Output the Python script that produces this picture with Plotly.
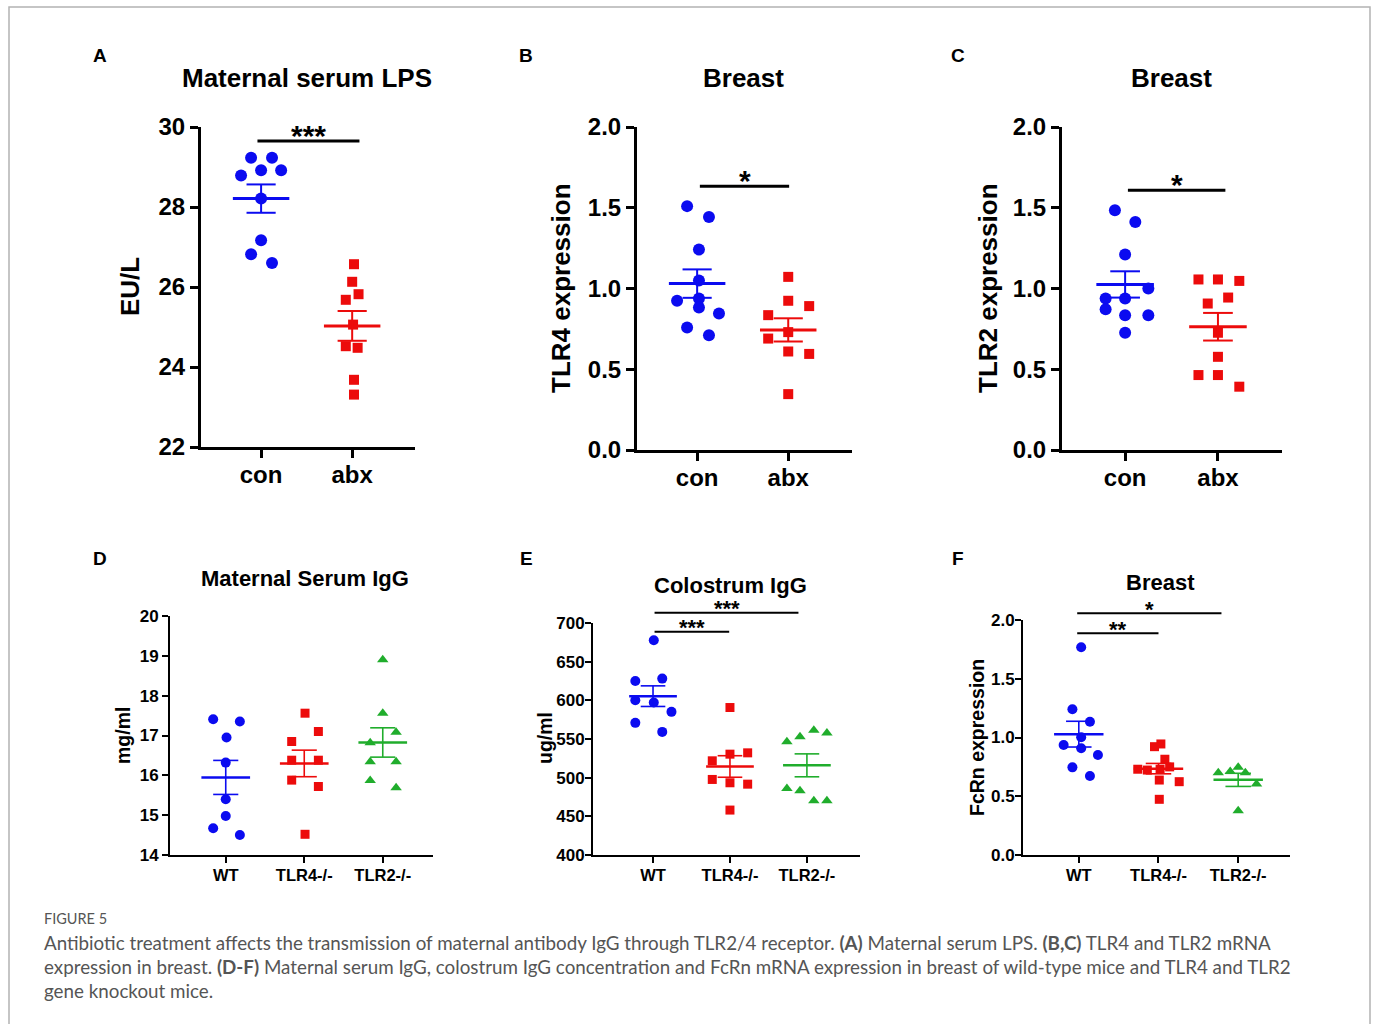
import numpy as np
import plotly.graph_objects as go

W, H = 1375, 1024
BLUE = '#0b0bf0'
RED = '#ec0b0b'
GREEN = '#20ad2c'
FONT = 'Liberation Sans, Arial, sans-serif'

# ---------------- data ----------------
cats_ab = ['con', 'abx']
cats_def = ['WT', 'TLR4-/-', 'TLR2-/-']

A_con = [29.23, 29.23, 28.92, 28.92, 28.79, 28.21, 27.17, 26.82, 26.60]
A_abx = [26.57, 26.13, 25.82, 25.68, 25.06, 24.52, 24.48, 23.68, 23.31]

B_con = [1.51, 1.443, 1.241, 1.05, 0.924, 0.938, 0.882, 0.845, 0.759, 0.711]
B_abx = [1.072, 0.924, 0.891, 0.835, 0.73, 0.69, 0.61, 0.595, 0.346]

C_con = [1.485, 1.412, 1.21, 1.0, 0.938, 0.938, 0.872, 0.835, 0.835, 0.726]
C_abx = [1.056, 1.056, 1.047, 0.944, 0.907, 0.726, 0.577, 0.464, 0.464, 0.392]

D_wt = [17.41, 17.35, 16.95, 16.32, 15.40, 14.98, 14.67, 14.50]
D_tlr4 = [17.56, 17.10, 16.85, 16.38, 16.38, 15.88, 15.72, 14.52]
D_tlr2 = [18.90, 17.56, 17.08, 16.82, 16.34, 16.34, 15.87, 15.69]

E_wt = [677.6, 628.1, 625.1, 600.1, 597.1, 585.1, 570.9, 559.2]
E_tlr4 = [590.7, 532.1, 530.4, 521.8, 497.7, 493.4, 491.6, 458.1]
E_tlr2 = [561.4, 557.9, 552.8, 546.3, 486.0, 483.0, 470.1, 470.1]

F_wt = [1.768, 1.24, 1.134, 1.002, 0.936, 0.908, 0.851, 0.746, 0.672]
F_tlr4 = [0.945, 0.922, 0.815, 0.75, 0.73, 0.73, 0.723, 0.638, 0.624, 0.474]
F_tlr2 = [0.746, 0.71, 0.70, 0.70, 0.604, 0.377]

# horizontal scatter offsets (category units), kept apart from the values
A_con_j = [-0.11, 0.12, 0.0, 0.22, -0.22, 0.0, 0.0, -0.11, 0.12]
A_abx_j = [0.02, 0.0, 0.07, -0.07, 0.01, -0.07, 0.06, 0.02, 0.02]
B_con_j = [-0.11, 0.13, 0.02, 0.02, -0.22, 0.02, 0.02, 0.24, -0.11, 0.13]
B_abx_j = [0.0, 0.0, 0.23, -0.22, 0.0, -0.22, 0.0, 0.23, 0.0]
C_con_j = [-0.11, 0.11, 0.0, 0.25, -0.21, 0.0, -0.21, 0.0, 0.25, 0.0]
C_abx_j = [-0.21, 0.0, 0.23, 0.11, -0.11, 0.0, 0.0, -0.21, 0.0, 0.23]
D_wt_j = [-0.16, 0.18, 0.01, 0.0, 0.0, 0.0, -0.16, 0.18]
D_tlr4_j = [0.01, 0.18, -0.16, -0.16, 0.18, -0.16, 0.18, 0.01]
D_tlr2_j = [0.0, 0.0, 0.17, -0.16, -0.16, 0.17, -0.16, 0.17]
E_wt_j = [0.01, 0.12, -0.23, -0.23, 0.01, 0.24, -0.23, 0.12]
E_tlr4_j = [0.0, 0.23, 0.0, -0.23, -0.23, 0.0, 0.23, 0.0]
E_tlr2_j = [0.09, 0.26, -0.09, -0.26, -0.26, -0.09, 0.09, 0.26]
F_wt_j = [0.03, -0.08, 0.14, 0.03, -0.19, 0.03, 0.24, -0.08, 0.14]
F_tlr4_j = [0.03, -0.05, 0.08, 0.14, 0.02, -0.26, -0.14, 0.01, 0.26, 0.01]
F_tlr2_j = [0.0, -0.1, -0.25, 0.09, 0.23, 0.0]

A_ticks = [22, 24, 26, 28, 30]
BC_ticks = [0, 0.5, 1.0, 1.5, 2.0]
D_ticks = [14, 15, 16, 17, 18, 19, 20]
E_ticks = [400, 450, 500, 550, 600, 650, 700]
F_ticks = [0, 0.5, 1.0, 1.5, 2.0]

# ---------------- panel layout ----------------
def px(x):
    return x / W


def py(y):
    return 1 - y / H


panels = [
    dict(letter='A', title='Maternal serum LPS', ytitle='EU/L', cats=cats_ab,
         groups=[(A_con, A_con_j, BLUE, 'circle'), (A_abx, A_abx_j, RED, 'square')],
         xpx=(201, 415), ypx=(127, 447), xr=(-0.66, 1.69), yr=(22, 30), ticks=A_ticks,
         fmt='{:.0f}', top=True, ystand=0,
         sig=[(-0.04, 1.08, 29.65, '***')],
         letter_xy=(100, 55), title_xy=(307, 78), ytitle_xy=(130, 287)),
    dict(letter='B', title='Breast', ytitle='TLR4 expression', cats=cats_ab,
         groups=[(B_con, B_con_j, BLUE, 'circle'), (B_abx, B_abx_j, RED, 'square')],
         xpx=(637, 852), ypx=(127, 450), xr=(-0.66, 1.70), yr=(0, 2), ticks=BC_ticks,
         fmt='{:.1f}', top=True, ystand=0,
         sig=[(0.03, 1.01, 1.633, '*')],
         letter_xy=(526, 55), title_xy=(743, 78), ytitle_xy=(561, 288)),
    dict(letter='C', title='Breast', ytitle='TLR2 expression', cats=cats_ab,
         groups=[(C_con, C_con_j, BLUE, 'circle'), (C_abx, C_abx_j, RED, 'square')],
         xpx=(1062, 1282), ypx=(127, 450), xr=(-0.68, 1.69), yr=(0, 2), ticks=BC_ticks,
         fmt='{:.1f}', top=True, ystand=0,
         sig=[(0.03, 1.08, 1.608, '*')],
         letter_xy=(958, 55), title_xy=(1171, 78), ytitle_xy=(988, 288)),
    dict(letter='D', title='Maternal Serum IgG', ytitle='mg/ml', cats=cats_def,
         groups=[(D_wt, D_wt_j, BLUE, 'circle'), (D_tlr4, D_tlr4_j, RED, 'square'),
                 (D_tlr2, D_tlr2_j, GREEN, 'triangle-up')],
         xpx=(170, 433), ypx=(616, 855), xr=(-0.71, 2.64), yr=(14, 20), ticks=D_ticks,
         fmt='{:.0f}', top=False, ystand=0, sig=[],
         letter_xy=(100, 558), title_xy=(305, 578), ytitle_xy=(123, 736)),
    dict(letter='E', title='Colostrum IgG', ytitle='ug/ml', cats=cats_def,
         groups=[(E_wt, E_wt_j, BLUE, 'circle'), (E_tlr4, E_tlr4_j, RED, 'square'),
                 (E_tlr2, E_tlr2_j, GREEN, 'triangle-up')],
         xpx=(593, 860), ypx=(623, 855), xr=(-0.78, 2.69), yr=(400, 700), ticks=E_ticks,
         fmt='{:.0f}', top=False, ystand=-3,
         sig=[(0.02, 0.99, 688.7, '***'), (0.02, 1.89, 713.3, '***')],
         letter_xy=(526, 558), title_xy=(730, 585), ytitle_xy=(545, 738)),
    dict(letter='F', title='Breast', ytitle='FcRn expression', cats=cats_def,
         groups=[(F_wt, F_wt_j, BLUE, 'circle'), (F_tlr4, F_tlr4_j, RED, 'square'),
                 (F_tlr2, F_tlr2_j, GREEN, 'triangle-up')],
         xpx=(1023, 1290), ypx=(620, 855), xr=(-0.70, 2.65), yr=(0, 2), ticks=F_ticks,
         fmt='{:.1f}', top=False, ystand=-3,
         sig=[(-0.02, 1.0, 1.887, '**'), (-0.02, 1.79, 2.057, '*')],
         letter_xy=(958, 558), title_xy=(1160, 582), ytitle_xy=(977, 738)),
]

fig = go.Figure()
layout = dict(width=W, height=H,
              margin=dict(l=0, r=0, t=0, b=0, pad=0, autoexpand=False),
              paper_bgcolor='white', plot_bgcolor='white', showlegend=False,
              font=dict(family=FONT, color='black'))
shapes = []
annotations = []


def val_to_paper(p, v):
    y0, y1 = p['yr']
    top_px, bot_px = p['ypx']
    frac = (v - y0) / (y1 - y0)
    return py(bot_px) + frac * (py(top_px) - py(bot_px))


for i, p in enumerate(panels, start=1):
    xa = 'x' if i == 1 else f'x{i}'
    ya = 'y' if i == 1 else f'y{i}'
    top = p['top']
    lw = 3 if top else 2
    tl = 8 if top else 6
    tick_size = 24 if top else 17
    cat_size = 24 if top else 16.5
    msize = {'circle': 12, 'square': 10} if top else {'circle': 10, 'square': 9, 'triangle-up': 10}
    mean_w = 3 if top else 2.5
    sem_w = 2 if top else 1.6
    half = 0.31
    cap = 0.16

    for gi, (vals, jit, color, sym) in enumerate(p['groups']):
        xs = [gi + j for j in jit]
        fig.add_trace(go.Scatter(x=xs, y=vals, mode='markers', xaxis=xa, yaxis=ya,
                                 marker=dict(symbol=sym, size=msize[sym], color=color,
                                             line=dict(width=0)),
                                 hoverinfo='skip', cliponaxis=False))
    for gi, (vals, jit, color, sym) in enumerate(p['groups']):
        arr = np.array(vals, dtype=float)
        m = arr.mean()
        s = arr.std(ddof=1) / np.sqrt(len(arr))
        fig.add_trace(go.Scatter(x=[gi - half, gi + half], y=[m, m], mode='lines',
                                 xaxis=xa, yaxis=ya, line=dict(color=color, width=mean_w),
                                 hoverinfo='skip'))
        fig.add_trace(go.Scatter(
            x=[gi, gi, None, gi - cap, gi + cap, None, gi - cap, gi + cap],
            y=[m - s, m + s, None, m + s, m + s, None, m - s, m - s],
            mode='lines', xaxis=xa, yaxis=ya, line=dict(color=color, width=sem_w),
            hoverinfo='skip'))

    axis_common = dict(showline=True, linecolor='black', linewidth=lw, ticks='outside',
                       ticklen=tl, tickwidth=lw, tickcolor='black', showgrid=False,
                       zeroline=False, fixedrange=True, automargin=False)
    layout['xaxis' if i == 1 else f'xaxis{i}'] = dict(
        domain=[px(p['xpx'][0]), px(p['xpx'][1])], range=list(p['xr']),
        tickvals=list(range(len(p['cats']))), ticktext=p['cats'],
        tickfont=dict(family=FONT, size=cat_size, color='black', weight='bold'),
        ticklabelstandoff=-4 if top else -2,
        anchor=ya, **axis_common)
    layout['yaxis' if i == 1 else f'yaxis{i}'] = dict(
        domain=[py(p['ypx'][1]), py(p['ypx'][0])], range=list(p['yr']),
        tickvals=p['ticks'], ticktext=[p['fmt'].format(t) for t in p['ticks']],
        tickfont=dict(family=FONT, size=tick_size, color='black', weight='bold'),
        ticklabelstandoff=p['ystand'],
        anchor=xa, **axis_common)

    # significance bars
    for (x0, x1, v, stars) in p['sig']:
        yp = val_to_paper(p, v)
        shapes.append(dict(type='line', xref=xa, yref='paper', x0=x0, x1=x1, y0=yp, y1=yp,
                           line=dict(color='black', width=lw)))
        annotations.append(dict(xref=xa, yref='paper', x=(x0 + x1) / 2, y=yp, text=stars,
                                showarrow=False, yanchor='middle', yshift=6 if top else 4,
                                font=dict(family=FONT, size=30 if top else 22,
                                          color='black', weight='bold')))

    # panel letter, title, y title
    lx, ly = p['letter_xy']
    annotations.append(dict(xref='paper', yref='paper', x=px(lx), y=py(ly), text=p['letter'],
                            showarrow=False, xanchor='center', yanchor='middle',
                            font=dict(family=FONT, size=19, color='black', weight='bold')))
    tx, ty = p['title_xy']
    annotations.append(dict(xref='paper', yref='paper', x=px(tx), y=py(ty), text=p['title'],
                            showarrow=False, xanchor='center', yanchor='middle',
                            font=dict(family=FONT, size=26 if top else 22, color='black',
                                      weight='bold')))
    yx, yy = p['ytitle_xy']
    annotations.append(dict(xref='paper', yref='paper', x=px(yx), y=py(yy), text=p['ytitle'],
                            showarrow=False, xanchor='center', yanchor='middle', textangle=-90,
                            font=dict(family=FONT, size=26 if top else 19.5, color='black',
                                      weight='bold')))

# frame
shapes.append(dict(type='rect', xref='paper', yref='paper', x0=px(9), x1=px(1370),
                   y0=-0.05, y1=py(7), line=dict(color='#b3b3b3', width=1.5),
                   fillcolor='rgba(0,0,0,0)', layer='below'))

# caption
CAP = 'Lato, Open Sans, sans-serif'
annotations.append(dict(xref='paper', yref='paper', x=px(42), y=py(918), text='FIGURE 5',
                        showarrow=False, xanchor='left', yanchor='middle',
                        font=dict(family=CAP, size=14.5, color='#555555')))
cap_lines = [
    'Antibiotic treatment affects the transmission of maternal antibody IgG through TLR2/4 receptor. '
    '<b>(A)</b> Maternal serum LPS. <b>(B,C)</b> TLR4 and TLR2 mRNA',
    'expression in breast. <b>(D-F)</b> Maternal serum IgG, colostrum IgG concentration and FcRn mRNA '
    'expression in breast of wild-type mice and TLR4 and TLR2',
    'gene knockout mice.',
]
for k, line in enumerate(cap_lines):
    annotations.append(dict(xref='paper', yref='paper', x=px(42), y=py(942 + 24 * k),
                            text=line, showarrow=False, xanchor='left', yanchor='middle',
                            font=dict(family=CAP, size=18.8, color='#555555')))

layout['shapes'] = shapes
layout['annotations'] = annotations
fig.update_layout(**layout)
fig.write_html('out.html')
